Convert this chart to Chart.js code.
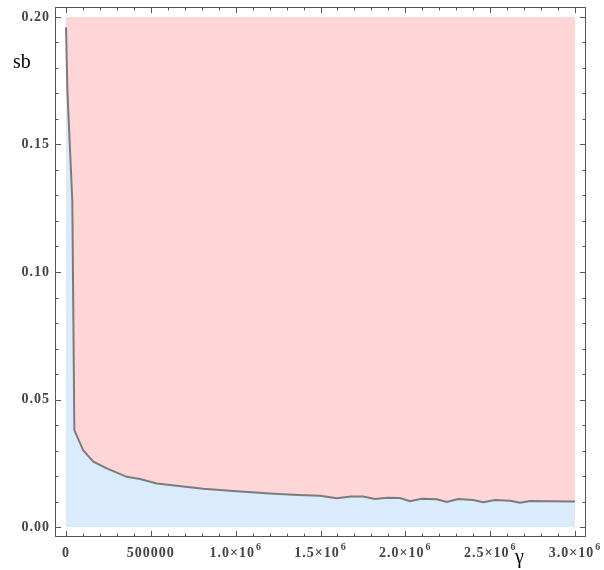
<!DOCTYPE html>
<html>
<head>
<meta charset="utf-8">
<script src="https://cdn.jsdelivr.net/npm/chart.js@4/dist/chart.umd.min.js"></script>
<style>
    body { margin: 0; background: #fff; }
    #wrap { width: 604px; height: 570px; }
</style>
</head>
<body>
<div id="wrap"><canvas id="regionChart" width="604" height="570"></canvas></div>
<script>
// boundary curve
const gammaValues = [0, 8000, 37000, 43000, 49000, 102000, 161000, 240000, 358000, 436000,
    535000, 652000, 809000, 1006000, 1202000, 1370000, 1497000, 1595000, 1680000, 1750000,
    1821000, 1890000, 1969000, 2027000, 2096000, 2185000, 2244000, 2312000, 2400000, 2460000,
    2528000, 2617000, 2676000, 2735000, 2833000, 3000000];
const sbValues = [0.196, 0.171, 0.128, 0.084, 0.038, 0.030, 0.0256, 0.023, 0.0197, 0.0188,
    0.0171, 0.0162, 0.0150, 0.0140, 0.0132, 0.0126, 0.0123, 0.0113, 0.0120, 0.0120,
    0.0110, 0.0115, 0.0114, 0.0101, 0.0111, 0.0109, 0.0098, 0.0110, 0.0106, 0.0097,
    0.0106, 0.0103, 0.0095, 0.0102, 0.0101, 0.0100];

// outer (pink) region
const regionGamma = [0, 3000000];
const regionTop = [0.2, 0.2];

// axis ticks (label base + exponent, exponent '' when none)
const xTickValues = [0, 500000, 1000000, 1500000, 2000000, 2500000, 3000000];
const xTickLabels = ['0', '500000', '1.0×10', '1.5×10', '2.0×10', '2.5×10', '3.0×10'];
const xTickExponents = ['', '', '6', '6', '6', '6', '6'];
const yTickValues = [0, 0.05, 0.1, 0.15, 0.2];
const yTickLabels = ['0.00', '0.05', '0.10', '0.15', '0.20'];
const xMinorStep = 100000;
const yMinorStep = 0.01;

const serif = '"Liberation Serif", "DejaVu Serif", serif';

// Mathematica style frame with ticks pointing inward, plus tick labels
const frameTicks = {
    id: 'frameTicks',
    afterDraw(chart) {
        const { ctx, chartArea: a, scales } = chart;
        ctx.save();
        ctx.strokeStyle = '#555';
        ctx.lineWidth = 1;
        ctx.strokeRect(a.left + 0.5, a.top + 0.5, a.right - a.left - 1, a.bottom - a.top - 1);

        ctx.beginPath();
        for (let v = 0; v <= 3000000 + 1; v += xMinorStep) {
            const major = xTickValues.some(t => Math.abs(t - v) < 1);
            const len = major ? 6 : 3.5;
            const px = Math.round(scales.x.getPixelForValue(v)) + 0.5;
            ctx.moveTo(px, a.bottom); ctx.lineTo(px, a.bottom - len);
            ctx.moveTo(px, a.top); ctx.lineTo(px, a.top + len);
        }
        for (let i = 0; i <= 20; i++) {
            const v = i * yMinorStep;
            const len = i % 5 === 0 ? 6 : 3.5;
            const py = Math.round(scales.y.getPixelForValue(v)) + 0.5;
            ctx.moveTo(a.left, py); ctx.lineTo(a.left + len, py);
            ctx.moveTo(a.right, py); ctx.lineTo(a.right - len, py);
        }
        ctx.stroke();

        // tick labels
        ctx.fillStyle = '#444';
        ctx.letterSpacing = '1px';
        ctx.font = 'bold 14px ' + serif;
        ctx.textBaseline = 'middle';
        ctx.textAlign = 'right';
        yTickValues.forEach((v, i) => {
            ctx.fillText(yTickLabels[i], a.left - 5, scales.y.getPixelForValue(v));
        });

        ctx.textBaseline = 'alphabetic';
        ctx.textAlign = 'left';
        xTickValues.forEach((v, i) => {
            ctx.font = 'bold 14px ' + serif;
            const baseW = ctx.measureText(xTickLabels[i]).width;
            ctx.font = 'bold 10px ' + serif;
            const expW = xTickExponents[i] ? ctx.measureText(xTickExponents[i]).width + 1 : 0;
            const left = scales.x.getPixelForValue(v) - (baseW + expW) / 2;
            ctx.font = 'bold 14px ' + serif;
            ctx.fillText(xTickLabels[i], left, 557);
            if (xTickExponents[i]) {
                ctx.font = 'bold 10px ' + serif;
                ctx.fillText(xTickExponents[i], left + baseW + 1, 550);
            }
        });
        ctx.letterSpacing = '0px';

        // axis names
        ctx.fillStyle = '#000';
        ctx.font = '20px ' + serif;
        ctx.fillText('sb', 13, 68);
        ctx.fillText('γ', 515, 563);
        ctx.restore();
    }
};

new Chart(document.getElementById('regionChart'), {
    type: 'scatter',
    data: {
        datasets: [{
            label: 'boundary',
            data: gammaValues.map((g, i) => ({ x: g, y: sbValues[i] })),
            showLine: true,
            borderColor: '#7b7b7b',
            borderWidth: 2,
            backgroundColor: '#daebfb',
            fill: 'origin',
            tension: 0,
            pointRadius: 0,
            order: 1
        }, {
            label: 'region',
            data: regionGamma.map((g, i) => ({ x: g, y: regionTop[i] })),
            showLine: true,
            borderWidth: 0,
            borderColor: 'rgba(0,0,0,0)',
            backgroundColor: '#ffd6d8',
            fill: 'origin',
            pointRadius: 0,
            order: 2
        }]
    },
    options: {
        responsive: false,
        animation: false,
        layout: { padding: { left: 0, right: 18, top: 7, bottom: 0 } },
        plugins: {
            legend: { display: false },
            tooltip: { enabled: false }
        },
        scales: {
            x: {
                type: 'linear',
                min: -65000,
                max: 3065000,
                grid: { display: false, drawTicks: false },
                border: { display: false },
                afterBuildTicks: scale => { scale.ticks = xTickValues.map(v => ({ value: v })); },
                afterFit: scale => { scale.height = 33; },
                ticks: { display: false }
            },
            y: {
                type: 'linear',
                min: -0.0039,
                max: 0.2039,
                grid: { display: false, drawTicks: false },
                border: { display: false },
                afterBuildTicks: scale => { scale.ticks = yTickValues.map(v => ({ value: v })); },
                afterFit: scale => { scale.width = 55; },
                ticks: { display: false }
            }
        }
    },
    plugins: [frameTicks]
});
</script>
</body>
</html>
